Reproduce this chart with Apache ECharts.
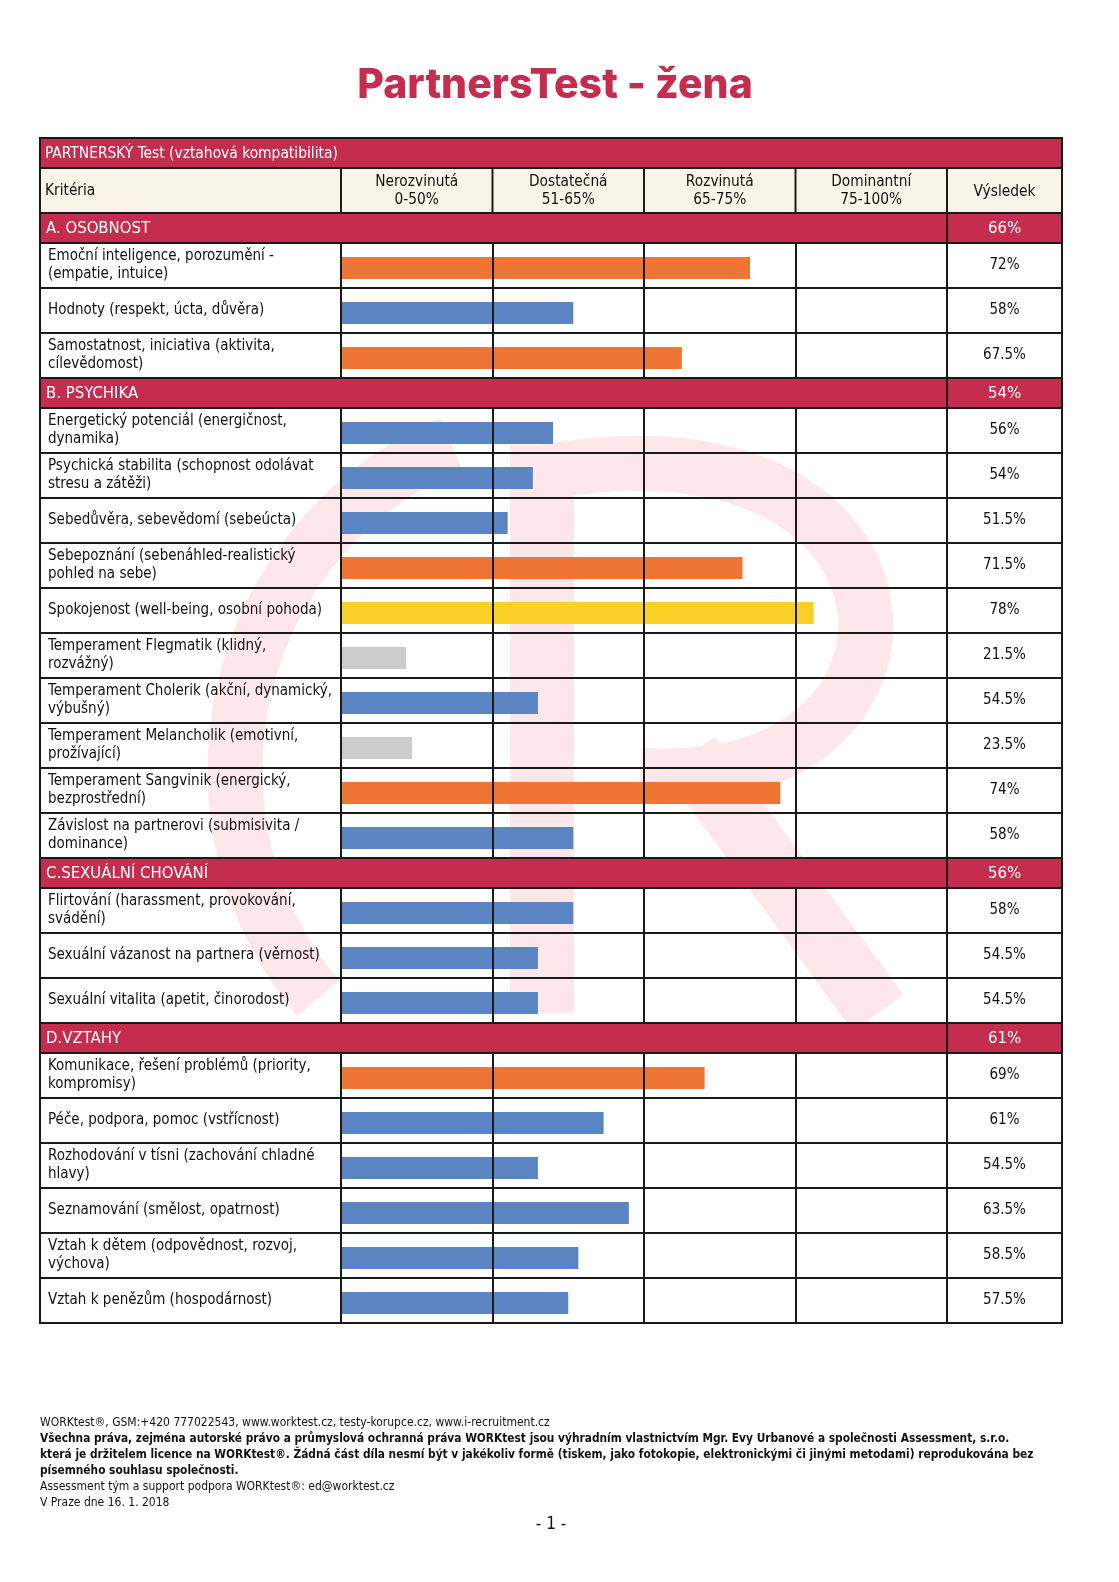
<!DOCTYPE html>
<html><head><meta charset="utf-8">
<script src="https://cdn.jsdelivr.net/npm/echarts@6/dist/echarts.min.js"></script>
<style>html,body{margin:0;padding:0;background:#fff;overflow:hidden;width:1119px;height:1582px}#c{width:1119px;height:1582px;overflow:hidden}</style>
</head><body><div id="c"></div>
<script>
// ---------- DATA ----------
const pageTitle = 'PartnersTest - žena';
const tableTitle = 'PARTNERSKÝ Test (vztahová kompatibilita)';
const columnHeaders = ['Kritéria', 'Nerozvinutá\n0-50%', 'Dostatečná\n51-65%', 'Rozvinutá\n65-75%', 'Dominantní\n75-100%', 'Výsledek'];
const scaleBreaks = [0, 50, 65, 75, 100];

const sectionNames = ['A. OSOBNOST', 'B. PSYCHIKA', 'C.SEXUÁLNÍ CHOVÁNÍ', 'D.VZTAHY'];
const sectionResults = [66, 54, 56, 61];

const criteriaA = ['Emoční inteligence, porozumění -\n(empatie, intuice)', 'Hodnoty (respekt, úcta, důvěra)', 'Samostatnost, iniciativa (aktivita,\ncílevědomost)'];
const valuesA = [72, 58, 67.5];

const criteriaB = ['Energetický potenciál (energičnost,\ndynamika)', 'Psychická stabilita (schopnost odolávat\nstresu a zátěži)', 'Sebedůvěra, sebevědomí (sebeúcta)', 'Sebepoznání (sebenáhled-realistický\npohled na sebe)', 'Spokojenost (well-being, osobní pohoda)', 'Temperament Flegmatik (klidný,\nrozvážný)', 'Temperament Cholerik (akční, dynamický,\nvýbušný)', 'Temperament Melancholik (emotivní,\nprožívající)', 'Temperament Sangvinik (energický,\nbezprostřední)', 'Závislost na partnerovi (submisivita /\ndominance)'];
const valuesB = [56, 54, 51.5, 71.5, 78, 21.5, 54.5, 23.5, 74, 58];

const criteriaC = ['Flirtování (harassment, provokování,\nsvádění)', 'Sexuální vázanost na partnera (věrnost)', 'Sexuální vitalita (apetit, činorodost)'];
const valuesC = [58, 54.5, 54.5];

const criteriaD = ['Komunikace, řešení problémů (priority,\nkompromisy)', 'Péče, podpora, pomoc (vstřícnost)', 'Rozhodování v tísni (zachování chladné\nhlavy)', 'Seznamování (smělost, opatrnost)', 'Vztah k dětem (odpovědnost, rozvoj,\nvýchova)', 'Vztah k penězům (hospodárnost)'];
const valuesD = [69, 61, 54.5, 63.5, 58.5, 57.5];

const footerLines = [
  ['WORKtest®, GSM:+420 777022543, www.worktest.cz, testy-korupce.cz, www.i-recruitment.cz', false],
  ['Všechna práva, zejména autorské právo a průmyslová ochranná práva WORKtest jsou výhradním vlastnictvím Mgr. Evy Urbanové a společnosti Assessment, s.r.o.', true],
  ['která je držitelem licence na WORKtest®. Žádná část díla nesmí být v jakékoliv formě (tiskem, jako fotokopie, elektronickými či jinými metodami) reprodukována bez', true],
  ['písemného souhlasu společnosti.', true],
  ['Assessment tým a support podpora WORKtest®: ed@worktest.cz', false],
  ['V Praze dne 16. 1. 2018', false]
];
const pageNumber = '- 1 -';

// ---------- STYLE / LAYOUT ----------
const CRIMSON = '#c52d4e', CREAM = '#f8f4e7', LINE = '#1a1a1a';
const BAR_COLORS = ['#cbcbcb', '#5a84c2', '#ee7533', '#fdd027'];
const FONT = '"DejaVu Sans Condensed","DejaVu Sans",sans-serif';
const L = 40, R = 1062, C0 = 341, CW = 151.5, RES_X = 1004.5;
const TOP = 138, H1 = 30, H2 = 45, SEC_H = 30, ROW_H = 45;

function toAxis(v) {
  for (let i = 0; i < scaleBreaks.length - 1; i++) {
    if (v <= scaleBreaks[i + 1]) return i + (v - scaleBreaks[i]) / (scaleBreaks[i + 1] - scaleBreaks[i]);
  }
  return scaleBreaks.length - 1;
}
function colorFor(v) {
  for (let i = 1; i < scaleBreaks.length; i++) if (v < scaleBreaks[i]) return BAR_COLORS[i - 1];
  return BAR_COLORS[BAR_COLORS.length - 1];
}

const sections = [
  [criteriaA, valuesA], [criteriaB, valuesB], [criteriaC, valuesC], [criteriaD, valuesD]
];

const xMin = (L - C0) / CW;
const xMax = scaleBreaks.length - 1 + (R - (C0 + (scaleBreaks.length - 1) * CW)) / CW;
const colX = [C0, C0 + CW, C0 + 2 * CW, C0 + 3 * CW, C0 + 4 * CW];

const graphic = [];
// watermark
const WM = '#fde7ea';
graphic.push({ type: 'arc', z: -20, silent: true, shape: { cx: 590, cy: 770, r: 355, startAngle: 140 * Math.PI / 180, endAngle: 247 * Math.PI / 180, clockwise: true }, style: { stroke: WM, lineWidth: 55, fill: null } });
graphic.push({ type: 'rect', z: -20, silent: true, shape: { x: 510, y: 445, width: 64, height: 568 }, style: { fill: WM } });
graphic.push({ type: 'bezierCurve', z: -20, silent: true, shape: { x1: 545, y1: 472, cpx1: 950, cpy1: 400, cpx2: 960, cpy2: 800, x2: 640, y2: 775 }, style: { stroke: WM, lineWidth: 55, fill: null } });
graphic.push({ type: 'line', z: -20, silent: true, shape: { x1: 690, y1: 755, x2: 878, y2: 1013 }, style: { stroke: WM, lineWidth: 62 } });

// title
graphic.push({ type: 'text', z: 10, x: 555, y: 86, style: { text: pageTitle, font: '800 41px Inter, "Open Sans", sans-serif', fill: CRIMSON, textAlign: 'center', textVerticalAlign: 'middle' } });

// header row 1
graphic.push({ type: 'rect', z: 10, shape: { x: L, y: TOP, width: R - L, height: H1 }, style: { fill: CRIMSON, stroke: LINE, lineWidth: 2 } });
graphic.push({ type: 'text', z: 11, x: 45, y: TOP + H1 / 2 + 1, style: { text: tableTitle, font: '15.4px ' + FONT, fill: '#fff', textVerticalAlign: 'middle' } });
// header row 2
const h2y = TOP + H1;
graphic.push({ type: 'rect', z: 10, shape: { x: L, y: h2y, width: R - L, height: H2 }, style: { fill: CREAM, stroke: LINE, lineWidth: 2 } });
colX.forEach(x => graphic.push({ type: 'line', z: 11, shape: { x1: x, y1: h2y, x2: x, y2: h2y + H2 }, style: { stroke: LINE, lineWidth: 2 } }));
graphic.push({ type: 'text', z: 11, x: 45, y: h2y + H2 / 2 + 1, style: { text: columnHeaders[0], font: '15.3px ' + FONT, fill: '#111', textVerticalAlign: 'middle' } });
for (let i = 1; i <= 4; i++) {
  graphic.push({ type: 'text', z: 11, x: (colX[i - 1] + colX[i]) / 2, y: h2y + H2 / 2 + 1, style: { text: columnHeaders[i], font: '15.3px ' + FONT, lineHeight: 18, fill: '#111', textAlign: 'center', textVerticalAlign: 'middle' } });
}
graphic.push({ type: 'text', z: 11, x: RES_X, y: h2y + H2 / 2 + 1, style: { text: columnHeaders[5], font: '15.4px ' + FONT, fill: '#111', textAlign: 'center', textVerticalAlign: 'middle' } });

const grids = [], xAxes = [], yAxes = [], series = [];
let y = h2y + H2;
sections.forEach(([cats, vals], i) => {
  // section header
  graphic.push({ type: 'rect', z: 10, shape: { x: L, y: y, width: R - L, height: SEC_H }, style: { fill: CRIMSON, stroke: LINE, lineWidth: 2 } });
  graphic.push({ type: 'line', z: 11, shape: { x1: colX[4], y1: y, x2: colX[4], y2: y + SEC_H }, style: { stroke: LINE, lineWidth: 2 } });
  graphic.push({ type: 'text', z: 11, x: 46, y: y + SEC_H / 2 + 1, style: { text: sectionNames[i], font: '16.6px ' + FONT, fill: '#fff', textVerticalAlign: 'middle' } });
  graphic.push({ type: 'text', z: 11, x: RES_X, y: y + SEC_H / 2 + 1, style: { text: sectionResults[i] + '%', font: '16.6px ' + FONT, fill: '#fff', textAlign: 'center', textVerticalAlign: 'middle' } });
  y += SEC_H;
  const h = cats.length * ROW_H;
  grids.push({ left: L, right: 1119 - R, top: y, height: h, show: true, borderColor: LINE, borderWidth: 2, backgroundColor: 'transparent', containLabel: false });
  y += h;
  xAxes.push({ type: 'value', gridIndex: i, min: xMin, max: xMax, show: false });
  yAxes.push({
    type: 'category', gridIndex: i, inverse: true, data: cats,
    axisLine: { show: false }, axisTick: { show: false },
    splitLine: { show: true, lineStyle: { color: LINE, width: 2 } },
    axisLabel: { inside: true, margin: 8, interval: 0, color: '#111', fontFamily: FONT, fontSize: 15, lineHeight: 18, align: 'left' }
  });
  yAxes.push({
    type: 'category', gridIndex: i, inverse: true, position: 'right', data: vals.map(v => v + '%'),
    axisLine: { show: false }, axisTick: { show: false }, splitLine: { show: false },
    axisLabel: { inside: true, margin: R - RES_X, interval: 0, color: '#111', fontFamily: FONT, fontSize: 15, align: 'center' }
  });
  // invisible spacer series nudges the bars slightly below the row centre, as in the reference
  series.push({
    type: 'bar', xAxisIndex: i, yAxisIndex: 2 * i, barWidth: 5, barGap: '0%', silent: true,
    itemStyle: { color: 'rgba(0,0,0,0)' },
    data: vals.map(() => 0)
  });
  series.push({
    type: 'bar', xAxisIndex: i, yAxisIndex: 2 * i, barWidth: 22, barGap: '0%', silent: true,
    data: vals.map(v => ({ value: toAxis(v), itemStyle: { color: colorFor(v) } })),
    markLine: {
      silent: true, symbol: ['none', 'none'], label: { show: false },
      lineStyle: { color: LINE, width: 2, type: 'solid' },
      data: [0, 1, 2, 3, 4].map(x => ({ xAxis: x }))
    }
  });
});

// footer
footerLines.forEach(([t, bold], i) => {
  graphic.push({ type: 'text', z: 10, x: 40, y: 1423 + i * 16, style: { text: t, font: (bold ? 'bold 11.8px ' : '12px ') + FONT, fill: '#111', textVerticalAlign: 'middle' } });
});
graphic.push({ type: 'text', z: 10, x: 551, y: 1525, style: { text: pageNumber, font: '17px ' + FONT, fill: '#111', textAlign: 'center', textVerticalAlign: 'middle' } });

const chart = echarts.init(document.getElementById('c'));
chart.setOption({
  animation: false,
  backgroundColor: '#fff',
  grid: grids, xAxis: xAxes, yAxis: yAxes, series: series,
  graphic: graphic
});
</script></body></html>
